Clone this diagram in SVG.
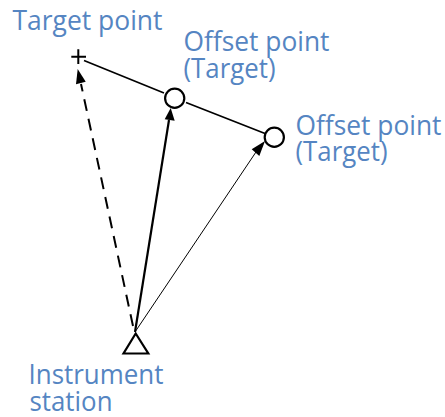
<svg xmlns="http://www.w3.org/2000/svg" width="445" height="417" viewBox="0 0 445 417">
<style>
text{font-family:"Open Sans","Noto Sans",sans-serif;font-size:27px;fill:#5585c2}
.s{fill:none;stroke:#000}
.h{fill:#000;stroke:none}
</style>
<g id="connectors">
<path class="s" stroke-width="1.7" d="M84 60.500L164 93M186 102.500L265 133.500"/>
<path class="s" stroke-width="2" stroke-dasharray="12 8" d="M133 326L81 84"/>
<polygon class="h" points="77.700,69 85.700,81.700 76,84.300"/>
<path class="s" stroke-width="2.200" d="M135 332L169 120"/>
<polygon class="h" points="170.700,108 174.700,120.700 164.700,119.300"/>
<path class="s" stroke-width="1" d="M135 332L256 152"/>
<polygon class="h" points="265,141 259.300,156 251.700,149.300"/>
</g>
<g id="target-point">
<path class="s" stroke-width="2" d="M71.300 56.700H86M78.300 49.300V64"/>
<text x="12.500" y="30" textLength="150" lengthAdjust="spacingAndGlyphs">Target point</text>
</g>
<g id="offset-point-1">
<circle class="s" stroke-width="2.200" cx="174.700" cy="98.300" r="9.600"/>
<text x="183.500" y="50.500" textLength="146" lengthAdjust="spacingAndGlyphs">Offset point</text>
<text x="183.500" y="78" textLength="92" lengthAdjust="spacingAndGlyphs">(Target)</text>
</g>
<g id="offset-point-2">
<circle class="s" stroke-width="2.200" cx="274.300" cy="137.300" r="9.600"/>
<text x="295.500" y="135" textLength="146" lengthAdjust="spacingAndGlyphs">Offset point</text>
<text x="295.500" y="161" textLength="92" lengthAdjust="spacingAndGlyphs">(Target)</text>
</g>
<g id="instrument-station">
<polygon class="s" stroke-width="2.200" points="135.700,333.500 123.500,353.500 148.300,353.500"/>
<text x="28.500" y="384" textLength="135" lengthAdjust="spacingAndGlyphs">Instrument</text>
<text x="29.500" y="410.500" textLength="83" lengthAdjust="spacingAndGlyphs">station</text>
</g>
</svg>
